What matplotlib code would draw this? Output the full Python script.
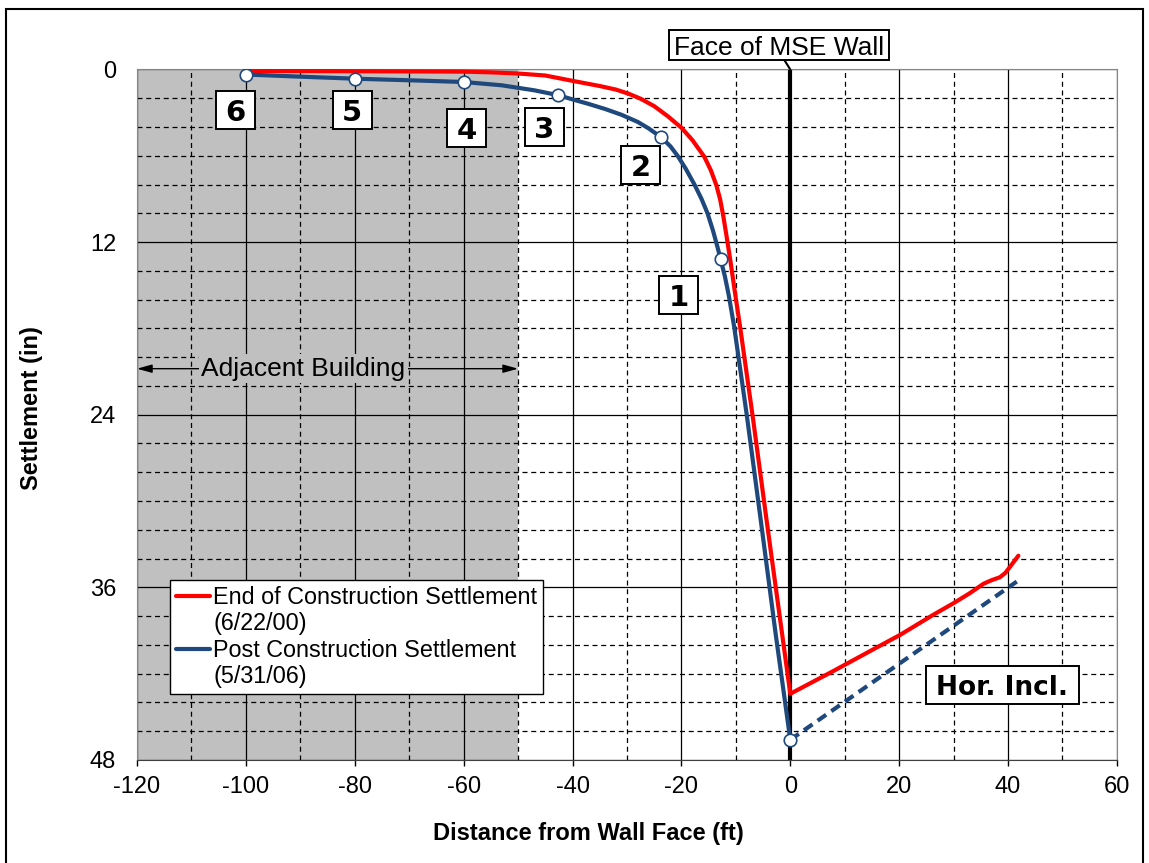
import matplotlib
matplotlib.use("Agg")
import matplotlib.pyplot as plt
from matplotlib.patches import Rectangle
from matplotlib.lines import Line2D
from matplotlib.transforms import ScaledTranslation
from matplotlib.ticker import MultipleLocator

# end of construction settlement (6/22/00), distance from wall face (ft) vs settlement (in)
end_x = [-100, -80, -60, -55, -50, -45, -40, -35, -32, -29.6, -27.4, -25, -22.5, -20, -18,
         -15.8, -14.6, -13.6, -12.9, -12.3, -11.7, -11.0, -10.2, -9.1, -6.8, -4.4, -2.2, 0,
         8, 15.3, 20.2, 26.3, 30, 33, 35.5, 37, 38.5, 39.5, 40.5, 41.9]
end_y = [0.1, 0.12, 0.15, 0.2, 0.28, 0.42, 0.79, 1.15, 1.4, 1.7, 2.05, 2.55, 3.25, 4.05, 4.9,
         6.06, 7.0, 8.02, 9.0, 10.2, 11.6, 13.3, 15.4, 18.2, 24.4, 31.2, 37.3, 43.4,
         41.8, 40.3, 39.3, 37.9, 37.1, 36.4, 35.75, 35.5, 35.3, 35.0, 34.5, 33.8]

# post construction settlement (5/31/06)
post_x = [-100, -90, -80, -70, -60, -53, -47, -42.7, -40, -37, -34, -31, -28, -26, -23.7, -22,
          -20.7, -19.2, -17.6, -16.3, -15.2, -14.2, -13.4, -12.8, -12.0, -11.3, -10.3, -8.0,
          -5.4, -2.7, 0]
post_y = [0.35, 0.5, 0.64, 0.75, 0.87, 1.1, 1.45, 1.78, 2.08, 2.4, 2.75, 3.15, 3.65, 4.1, 4.72, 5.35,
          6.0, 6.9, 8.0, 9.0, 10.0, 11.2, 12.3, 13.2, 14.4, 15.7, 17.9, 24.0,
          31.4, 39.2, 46.6]

# horizontal inclinometer (dashed)
incl_x = [0, 41.6]
incl_y = [46.6, 35.6]

# survey points on the post construction curve
mark_x = [0, -12.8, -23.7, -42.7, -60, -80, -100]
mark_y = [46.6, 13.2, 4.72, 1.78, 0.87, 0.64, 0.35]
point_names = ["1", "2", "3", "4", "5", "6"]

red = "#ff0000"
blue = "#1f497d"

plt.rcParams["font.family"] = ["Liberation Sans", "DejaVu Sans"]
plt.rcParams["axes.unicode_minus"] = False

fig = plt.figure(figsize=(11.49, 8.63), dpi=100)
ax = fig.add_axes([0.1192, 0.1194, 0.8529, 0.8001])

ax.axvspan(-120, -50, color="#c0c0c0", zorder=0.5, lw=0)

ln_end, = ax.plot(end_x, end_y, color=red, lw=3, zorder=3, solid_capstyle="round", solid_joinstyle="round")
ln_post, = ax.plot(post_x, post_y, color=blue, lw=3, zorder=3.2, solid_capstyle="round", solid_joinstyle="round")
ax.plot(incl_x, incl_y, color=blue, lw=3, ls=(0, (2.5, 1.5)), zorder=3.2)
ax.axvline(0, color="black", lw=3, zorder=2.5)
ax.plot(mark_x, mark_y, "o", ms=9, mfc="white", mec=blue, mew=1.2, zorder=5)

ax.set_xlim(-120, 60)
ax.set_ylim(48, 0)
ax.xaxis.set_major_locator(MultipleLocator(20))
ax.xaxis.set_minor_locator(MultipleLocator(10))
ax.yaxis.set_major_locator(MultipleLocator(12))
ax.yaxis.set_minor_locator(MultipleLocator(2))
ax.grid(which="major", color="black", lw=0.9, ls="-")
ax.grid(which="minor", color="black", lw=0.9, ls=(0, (4, 3)))
ax.tick_params(axis="x", which="major", direction="out", length=4.5, width=1, pad=7, labelsize=17)
ax.tick_params(axis="y", which="major", length=0, pad=15, labelsize=17)
ax.tick_params(which="minor", length=0)
for s in ["left", "top", "right"]:
    ax.spines[s].set_color("#868686")
ax.spines["bottom"].set_color("#404040")

ax.set_xlabel("Distance from Wall Face (ft)", fontsize=17, fontweight="bold")
ax.set_ylabel("Settlement (in)", fontsize=17, fontweight="bold")
ax.xaxis.set_label_coords(0.461, -0.09)
ax.yaxis.set_label_coords(-0.096, 0.51)


def box_label(x, y, s, w, h, **kw):
    # fixed size box (inches) centred on a data point
    tr = fig.dpi_scale_trans + ScaledTranslation(x, y, ax.transData)
    ax.add_artist(Rectangle((-w / 2, -h / 2), w, h, transform=tr, fc="white", ec="black",
                            lw=1.4, clip_on=False, zorder=6))
    ax.text(x, y, s, ha="center", va="center_baseline", zorder=7, clip_on=False, **kw)


# number boxes next to the survey points
name_pos = [(-20.5, 15.66), (-27.5, 6.64), (-45.2, 3.97), (-59.5, 4.04), (-80.5, 2.81), (-101.9, 2.81)]
for name, (px, py) in zip(point_names, name_pos):
    box_label(px, py, name, 0.39, 0.38, family="DejaVu Sans", fontweight="bold", fontsize=21)

box_label(38.9, 42.78, "Hor. Incl.", 1.53, 0.38, family="DejaVu Sans", fontweight="bold", fontsize=19)

# face of wall callout
ax.annotate("", xy=(0, 0), xytext=(-1.1, -0.66), arrowprops=dict(arrowstyle="-", lw=1.5, color="black",
            shrinkA=0, shrinkB=0), annotation_clip=False)
box_label(-2.15, -1.67, "Face of MSE Wall", 2.2, 0.30, fontsize=19)

# adjacent building arrow
ax.annotate("", xy=(-120, 20.8), xytext=(-50, 20.8),
            arrowprops=dict(arrowstyle="<|-|>,head_length=0.9,head_width=0.25", lw=1, color="black",
                            shrinkA=0, shrinkB=0), zorder=4)
ax.text(-89.4, 20.8, "Adjacent Building", fontsize=19, ha="center", va="center", zorder=5,
        bbox=dict(boxstyle="square,pad=0.1", fc="#c0c0c0", ec="none"))

blank = Line2D([], [], color="none")
leg = ax.legend([ln_end, blank, ln_post, blank],
                ["End of Construction Settlement", "(6/22/00)", "Post Construction Settlement", "(5/31/06)"],
                loc="upper left", bbox_to_anchor=(0.0337, 0.2607), borderaxespad=0, borderpad=0.25,
                handlelength=1.45, handletextpad=0.15, labelspacing=0.15, fontsize=16.8,
                fancybox=False, edgecolor="black", framealpha=1)
leg.get_frame().set_linewidth(1.0)
leg.set_zorder(8)

fig.add_artist(Rectangle((6 / 1149, -0.01), 1137 / 1149, 1 - 9 / 863 + 0.01, transform=fig.transFigure,
                         fill=False, ec="black", lw=1.5))

fig.savefig("out.png", dpi=100)
